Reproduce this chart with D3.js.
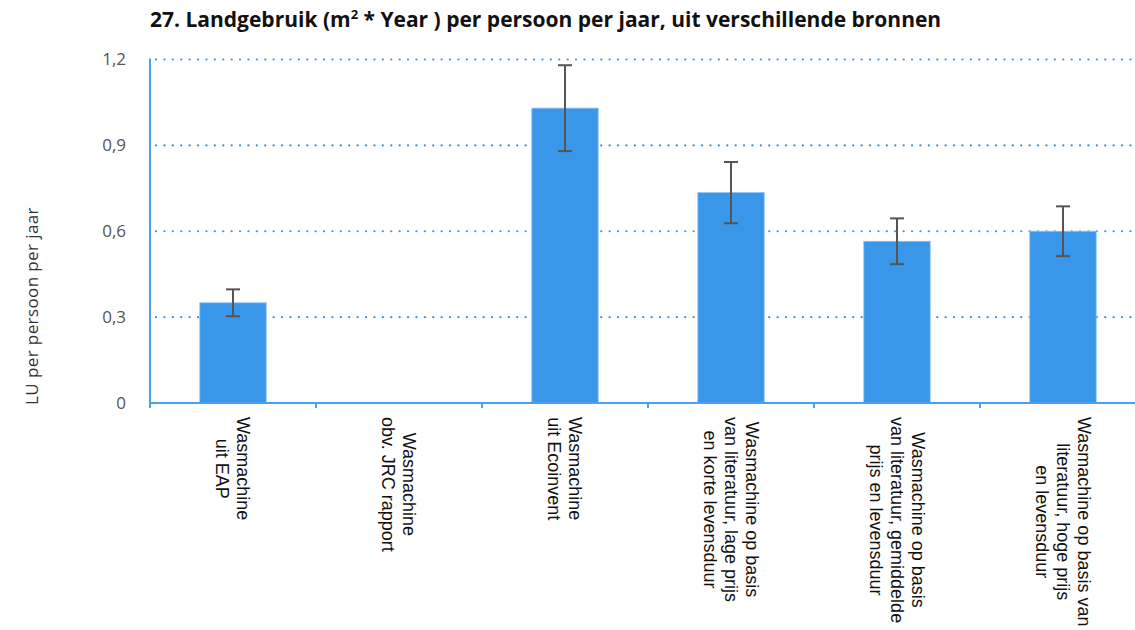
<!DOCTYPE html>
<meta charset="utf-8">
<title>Landgebruik</title>
<style>
body { margin: 0; background: #fff; }
svg { display: block; }
.title { font: bold 21px "Open Sans", sans-serif; fill: #111; }
.ylab { font: 17px "Open Sans", sans-serif; fill: #333; letter-spacing: 0.4px; }
.tick text { font: 17px "Open Sans", sans-serif; fill: #555; }
.xlab { font: 18px "Liberation Sans", Arial, sans-serif; fill: #111; }
</style>
<svg width="1135" height="630"></svg>
<script src="https://d3js.org/d3.v7.min.js"></script>
<script>

// data
var categories = [
  ["Wasmachine", "uit EAP"],
  ["Wasmachine", "obv. JRC rapport"],
  ["Wasmachine", "uit Ecoinvent"],
  ["Wasmachine op basis", "van literatuur, lage prijs", "en korte levensduur"],
  ["Wasmachine op basis", "van literatuur, gemiddelde", "prijs en levensduur"],
  ["Wasmachine op basis van", "literatuur, hoge prijs", "en levensduur"]
];
var values = [0.35, 0, 1.03, 0.735, 0.565, 0.6];
var errors = [0.047, 0, 0.15, 0.107, 0.08, 0.087];
var yTicks = [0, 0.3, 0.6, 0.9, 1.2];

var blue = "#3996e8";

var svg = d3.select("svg");
var left = 150, plotTop = 59.5, bottom = 403;

var x = d3.scaleBand()
    .domain(d3.range(categories.length))
    .range([left, left + 166 * categories.length]);

var y = d3.scaleLinear()
    .domain([0, 1.2])
    .range([bottom, plotTop]);

// title
var title = svg.append("text").attr("class", "title").attr("x", 150).attr("y", 27);
title.append("tspan").text("27. Landgebruik (m");
title.append("tspan").attr("dy", -8).style("font-size", "13px").text("2");
title.append("tspan").attr("dy", 8).text(" * Year ) per persoon per jaar, uit verschillende bronnen");

// y title
svg.append("text")
    .attr("class", "ylab")
    .attr("transform", "translate(38," + 306 + ") rotate(-90)")
    .attr("text-anchor", "middle")
    .text("LU per persoon per jaar");

// gridlines
svg.append("g").selectAll("line")
  .data(yTicks.filter(function(d) { return d > 0; }))
  .enter().append("line")
    .attr("x1", 156).attr("x2", 1135)
    .attr("y1", function(d) { return y(d); })
    .attr("y2", function(d) { return y(d); })
    .style("stroke", blue)
    .style("stroke-width", 2.2)
    .style("stroke-linecap", "round")
    .style("stroke-dasharray", "0.1,8.3");

// y axis labels
var yAxis = svg.append("g")
    .attr("transform", "translate(" + left + ",0)")
    .call(d3.axisLeft(y).tickValues(yTicks).tickSize(0).tickPadding(24)
      .tickFormat(function(d) { return d === 0 ? "0" : d3.format(".1f")(d).replace(".", ","); }));
yAxis.select(".domain").remove();

// bars
var bw = x.bandwidth() * 0.4;
svg.append("g").selectAll("rect")
  .data(values)
  .enter().append("rect")
    .attr("x", function(d, i) { return x(i) + (x.bandwidth() - bw) / 2; })
    .attr("y", function(d) { return y(d); })
    .attr("width", bw)
    .attr("height", function(d) { return bottom - y(d); })
    .style("fill", blue)
    .style("stroke", "#8cc2f2")
    .style("stroke-width", 0.8);

// error bars
var eb = svg.append("g").selectAll("g")
  .data(values.map(function(v, i) { return {i: i, v: v, e: errors[i]}; }).filter(function(d) { return d.v > 0; }))
  .enter().append("g")
    .style("stroke", "#555")
    .style("stroke-width", 2);
eb.append("line")
    .attr("x1", function(d) { return x(d.i) + x.bandwidth() / 2; })
    .attr("x2", function(d) { return x(d.i) + x.bandwidth() / 2; })
    .attr("y1", function(d) { return y(d.v + d.e); })
    .attr("y2", function(d) { return y(d.v - d.e); });
[1, -1].forEach(function(s) {
  eb.append("line")
      .attr("x1", function(d) { return x(d.i) + x.bandwidth() / 2 - 7; })
      .attr("x2", function(d) { return x(d.i) + x.bandwidth() / 2 + 7; })
      .attr("y1", function(d) { return y(d.v + s * d.e); })
      .attr("y2", function(d) { return y(d.v + s * d.e); });
});

// axes lines
svg.append("line")
    .attr("x1", left).attr("x2", left)
    .attr("y1", plotTop - 1).attr("y2", bottom + 5)
    .style("stroke", "#4a9ff0").style("stroke-width", 2);
svg.append("line")
    .attr("x1", left).attr("x2", 1135)
    .attr("y1", bottom).attr("y2", bottom)
    .style("stroke", "#4a9ff0").style("stroke-width", 2);
svg.append("g").selectAll("line")
  .data(d3.range(1, categories.length))
  .enter().append("line")
    .attr("x1", function(d) { return x(d); })
    .attr("x2", function(d) { return x(d); })
    .attr("y1", bottom).attr("y2", bottom + 5)
    .style("stroke", "#4a9ff0").style("stroke-width", 2);

// x labels
var lh = 21;
var labels = svg.append("g").selectAll("g")
  .data(categories)
  .enter().append("g");
labels.each(function(lines, i) {
  var g = d3.select(this);
  var t = g.append("text").attr("class", "xlab").attr("text-anchor", "middle");
  lines.forEach(function(l, k) {
    t.append("tspan").attr("x", 0).attr("y", k * lh).text(l);
  });
  var maxW = d3.max(t.selectAll("tspan").nodes(), function(n) { return n.getComputedTextLength(); });
  var cx = x(i) + x.bandwidth() / 2 - 6.5 + (lines.length - 1) * lh / 2;
  g.attr("transform", "translate(" + cx + "," + (417 + maxW / 2) + ") rotate(90)");
});

</script>
